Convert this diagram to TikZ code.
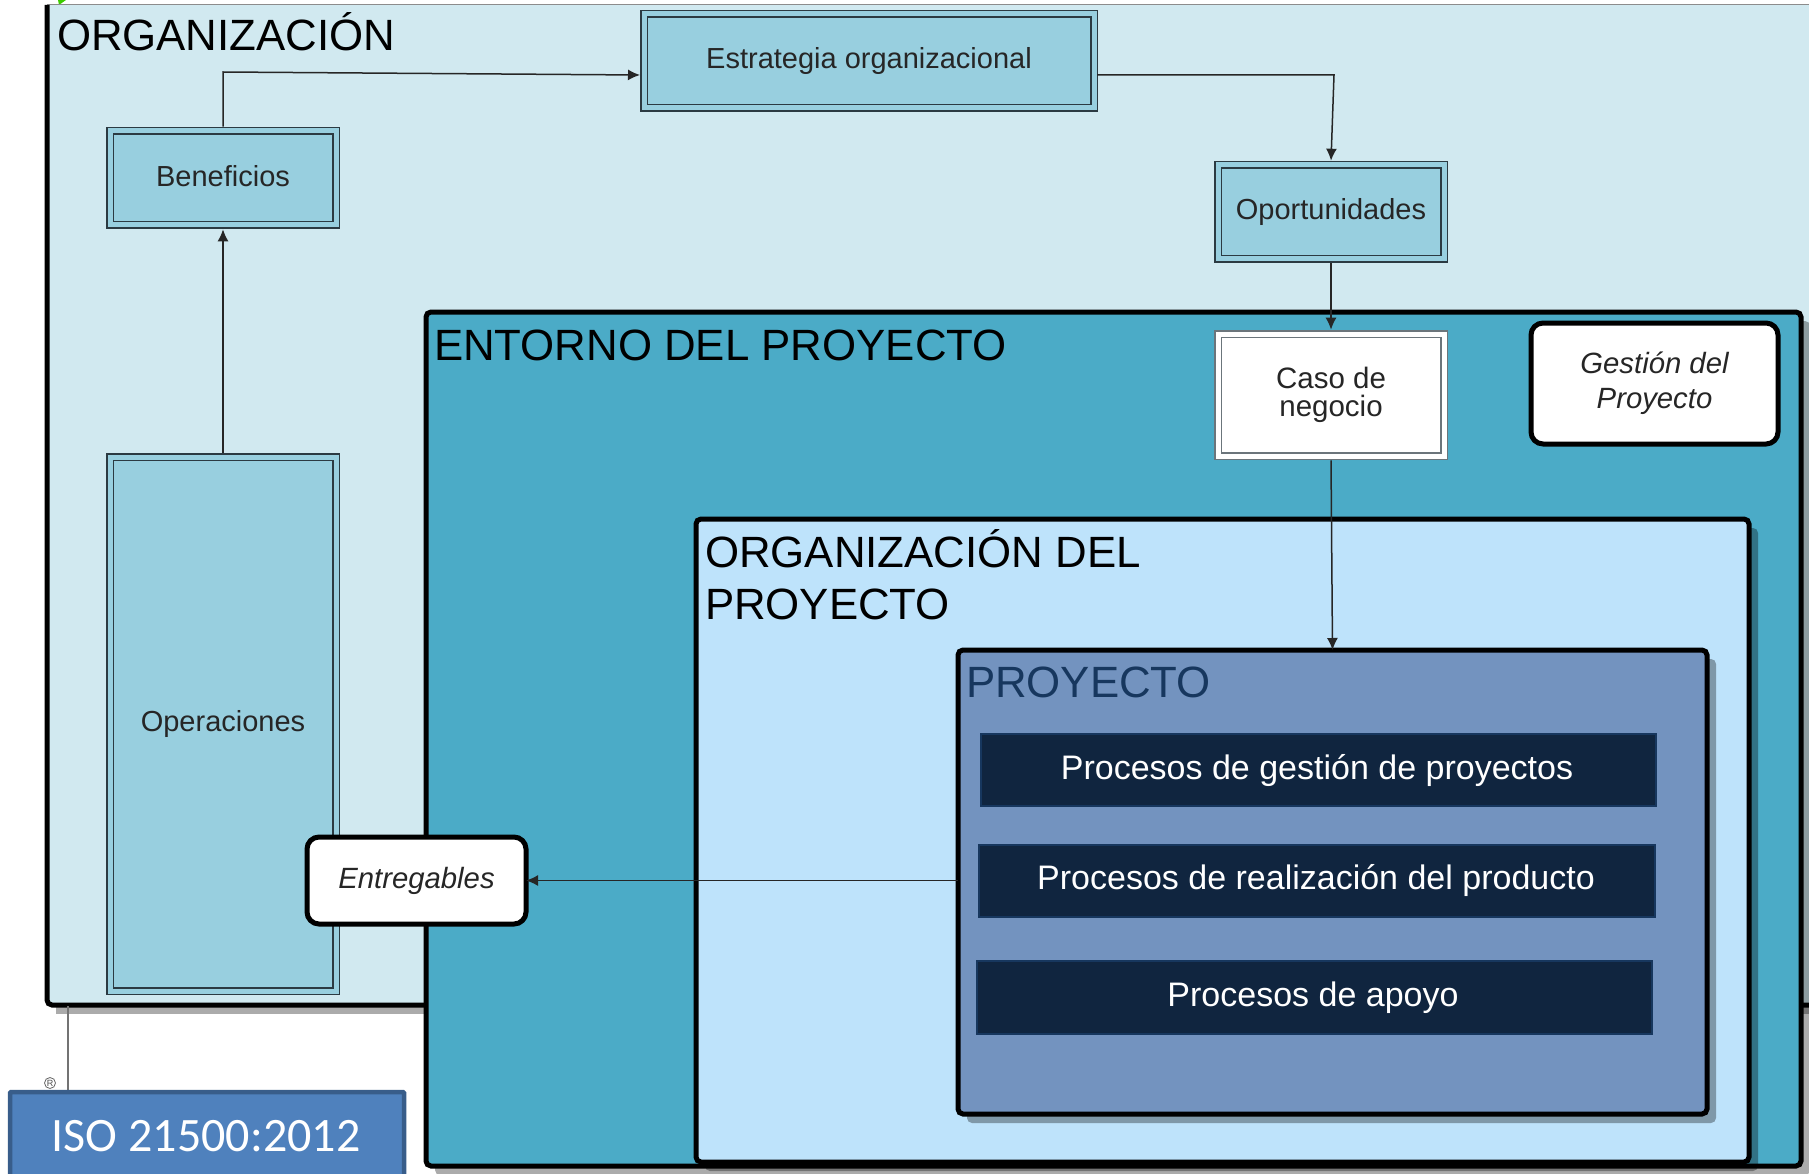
\documentclass[tikz,border=0pt]{standalone}
\usepackage{fontspec}
\setmainfont{Liberation Sans}
\newfontfamily\isofont{Carlito}
\usetikzlibrary{arrows.meta,shadows}
\definecolor{orgc}{HTML}{D1E9F0}
\definecolor{tealc}{HTML}{98CFDF}
\definecolor{envc}{HTML}{4BABC7}
\definecolor{opc}{HTML}{BEE3FB}
\definecolor{prc}{HTML}{7393BF}
\definecolor{darkc}{HTML}{10253F}
\definecolor{darkb}{HTML}{17375E}
\definecolor{isoc}{HTML}{4F81BD}
\definecolor{isob}{HTML}{385D8A}
\definecolor{linec}{HTML}{2B3A42}
\newcommand\fs[1]{\fontsize{#1pt}{#1pt}\selectfont}
\newcommand\bx[7][]{\node[#2,#1,minimum width={(#5-#3)*1pt},minimum height={(#6-#4)*1pt}] (#7) at ({(#3+#5)/2},{(#4+#6)/2})}
\tikzset{
  base/.style={inner sep=0pt,outer sep=0pt,align=center},
  shade8/.style={general shadow={fill=black,opacity=.33,shadow xshift=9pt,shadow yshift=-9pt}},
  zone/.style={base,draw=black,line width=5pt,rounded corners=5pt,shade8},
  tealbox/.style={base,outer sep=4.3pt,fill=tealc,draw=linec,line width=1.6pt,double=tealc,double distance=5pt,text=black!85,font=\fs{29}},
  whitebox/.style={base,outer sep=4.3pt,fill=white,draw=linec!70,line width=1.6pt,double=white,double distance=5pt,text=black!85,font=\fs{29.5}},
  roundbox/.style={base,fill=white,draw=black,line width=5pt,rounded corners=12pt,text=black!85,font=\fs{29.3}\itshape},
  procbox/.style={base,fill=darkc,draw=darkb,line width=2pt},
  proctext/.style={inner sep=0pt,text=white,font=\fs{34}},
  title/.style={inner sep=0pt,outer sep=0pt,anchor=base west,align=left,font=\fs{43.8}},
  conn/.style={draw=black!85,line width=1.5pt,-{Latex[length=12pt,width=11pt]}},
}
\begin{document}
\begin{tikzpicture}[x=1pt,y=-1pt]
\useasboundingbox (0,0) rectangle (1809,1174);
% top logo fragments
\fill[green!70!yellow!80!black] (58,0) -- (66,0) -- (59,5) -- cycle;
\fill[darkc] (122,0) arc[start angle=180,end angle=360,x radius=28,y radius=3.5] -- cycle;
% organization zone
\bx{base,fill=orgc,shade8}{47}{5}{1880}{1005}{org} {};
\draw[black!45,line width=1pt] (org.north west) -- (org.north east);
\draw[black,line width=5pt,rounded corners=5pt] (org.north west) -- (org.south west) -- (org.south east);
\node[title] (orgt) at (57,51) {ORGANIZACIÓN};
% frame line and mark
\coordinate (fa) at (68,1006);
\coordinate (fb) at (68,1090);
\draw[black!55,line width=1.2pt] (fa) -- (fb);
\node[inner sep=0pt,font=\fs{9},text=black!70,draw=black!60,circle,line width=.8pt,minimum size=11pt] (reg) at (50,1083) {R};
% environment zones
\bx{zone,fill=envc}{426}{312}{1801}{1166}{env} {};
\node[title] (envt) at (434,360) {ENTORNO DEL PROYECTO};
\bx{zone,fill=opc}{696}{519}{1749}{1162}{oproj} {};
\node[title] (oprojt) at (705,619) {ORGANIZACIÓN DEL\\[8pt]PROYECTO};
\bx{zone,fill=prc}{958}{650}{1707}{1114}{proj} {};
\node[title,text=darkb] (projt) at (966,697) {PROYECTO};
% process boxes
\bx{procbox}{981}{734}{1656}{806}{p1} {};
\node[proctext] (p1t) at (1317,770.5) {Procesos de gestión de proyectos};
\bx{procbox}{979}{845}{1655}{917}{p2} {};
\node[proctext] (p2t) at (1316,880.5) {Procesos de realización del producto};
\bx{procbox}{977}{961}{1652}{1034}{p3} {};
\node[proctext] (p3t) at (1313,997.5) {Procesos de apoyo};
% teal boxes
\bx{tealbox}{644}{14}{1094}{108}{estr} {Estrategia organizacional};
\bx{tealbox}{110}{131}{336}{225}{benef} {\raisebox{5pt}{Beneficios}};
\bx{tealbox}{1218}{165}{1444}{259}{opor} {Oportunidades};
\bx{tealbox}{110}{457}{336}{991}{oper} {Operaciones};
\bx{whitebox}{1218}{334}{1444}{456}{caso} {Caso de\\[-1pt]negocio};
\bx{roundbox}{1531}{323}{1778}{444}{gest} {Gestión del\\[6pt]Proyecto};
\bx{roundbox}{307}{837}{526}{924}{entr} {\raisebox{-3pt}{Entregables}};
% ISO label
\bx{base,fill=isoc,draw=isob,line width=4.5pt,rounded corners=1pt}{10}{1092}{404}{1190}{iso} {};
\node[inner sep=0pt,text=white,font=\isofont\fs{48}] (isot) at (206,1136) {ISO 21500:2012};
% connectors
\coordinate (bt) at (223,72);
\coordinate (el) at (640,75);
\coordinate (er) at (1097,75);
\coordinate (ec) at (1334,75);
\draw[conn] (benef.north) -- (bt) -- (el);
\draw[conn] (er) -- (ec) -- (opor.north);
\draw[conn] (opor.south) -- (caso.north);
\draw[conn] (caso.south) -- (proj.north);
\draw[conn] (oper.north) -- (benef.south);
\draw[conn] (entr.east -| proj.west) -- (entr.east);
\end{tikzpicture}
\end{document}
